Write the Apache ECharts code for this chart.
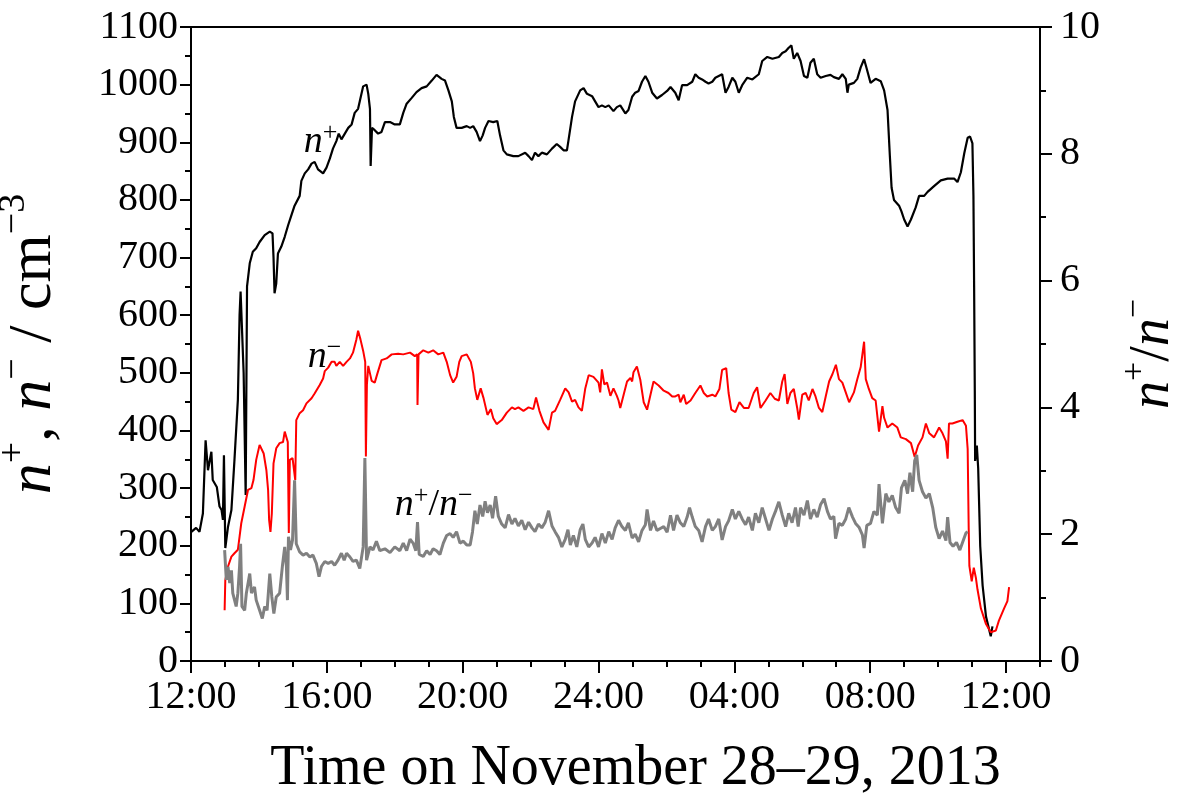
<!DOCTYPE html>
<html>
<head>
<meta charset="utf-8">
<script src="https://cdn.jsdelivr.net/npm/echarts@6/dist/echarts.min.js"></script>
<style>
  html, body { margin: 0; padding: 0; background: #fff; }
  #chart { width: 1185px; height: 803px; }
</style>
</head>
<body>
<div id="chart"></div>
<script>
// Time axis: hours elapsed since 12:00 on November 28, 2013
const xTickLabels = ['12:00', '16:00', '20:00', '24:00', '04:00', '08:00', '12:00'];

// Positive ion concentration n+ (cm^-3)
const nPlusHours = [0.01,0.15,0.25,0.35,0.43,0.50,0.60,0.64,0.76,0.84,0.90,0.94,0.97,1.01,1.09,1.19,1.28,1.38,1.43,1.46,1.51,1.55,1.61,1.65,1.73,1.82,1.92,2.02,2.17,2.32,2.40,2.43,2.46,2.51,2.56,2.66,2.76,2.86,2.96,3.00,3.05,3.20,3.25,3.35,3.45,3.55,3.64,3.74,3.89,3.99,4.09,4.18,4.28,4.35,4.43,4.53,4.63,4.73,4.82,4.92,4.97,5.07,5.17,5.22,5.27,5.29,5.33,5.41,5.51,5.61,5.71,5.86,6.00,6.15,6.25,6.35,6.50,6.64,6.79,6.94,7.09,7.23,7.38,7.48,7.58,7.68,7.74,7.82,7.97,8.12,8.22,8.31,8.41,8.51,8.59,8.66,8.76,8.90,9.02,9.10,9.20,9.30,9.49,9.64,9.84,9.94,10.04,10.13,10.23,10.33,10.48,10.63,10.77,10.87,10.97,11.07,11.12,11.22,11.31,11.46,11.56,11.66,11.81,11.90,12.00,12.10,12.20,12.30,12.44,12.54,12.64,12.79,12.88,12.99,13.08,13.18,13.28,13.38,13.47,13.58,13.72,13.87,14.02,14.12,14.26,14.36,14.46,14.61,14.76,14.85,14.95,15.05,15.15,15.24,15.35,15.44,15.64,15.74,15.83,15.94,16.03,16.13,16.23,16.38,16.53,16.72,16.82,16.97,17.12,17.31,17.41,17.51,17.60,17.68,17.75,17.85,17.95,18.05,18.15,18.24,18.34,18.44,18.54,18.69,18.83,18.93,19.08,19.18,19.28,19.33,19.37,19.52,19.62,19.72,19.82,19.90,20.01,20.16,20.31,20.41,20.51,20.58,20.63,20.70,20.85,20.92,21.00,21.10,21.20,21.34,21.44,21.59,21.69,21.88,22.08,22.28,22.47,22.57,22.67,22.77,22.87,22.94,23.01,23.04,23.06,23.08,23.09,23.14,23.18,23.24,23.31,23.41,23.55,23.60];
const nPlusValues = [224,231,224,256,383,331,363,314,302,268,262,245,357,196,233,262,349,453,600,641,641,500,288,650,690,710,716,727,739,745,742,700,638,655,707,719,736,756,774,774,790,807,833,846,853,863,866,853,846,856,872,889,902,915,905,915,925,931,951,958,971,997,1000,984,958,859,925,921,915,918,935,935,931,931,951,967,977,987,994,997,1007,1017,1010,1007,990,971,944,925,925,928,925,928,918,902,912,925,937,935,937,912,886,879,876,876,882,876,869,882,876,882,879,889,897,892,886,886,905,944,971,990,994,984,980,971,961,964,961,964,954,961,964,950,956,979,986,989,1005,1015,1005,986,976,982,989,996,986,973,999,999,1005,1018,1012,1009,1005,1002,1005,1012,1018,986,996,1012,1005,986,999,1012,1009,1018,1041,1048,1045,1048,1055,1058,1064,1068,1045,1055,1041,1015,1012,1038,1045,1018,1012,1015,1017,1013,1010,1018,1010,986,1000,1003,1010,1030,1044,1027,1003,1010,1006,990,956,875,821,800,790,780,766,754,766,787,807,807,814,824,834,837,837,831,848,881,908,910,898,807,652,469,347,374,334,199,131,77,43,60];

// Negative ion concentration n- (cm^-3)
const nMinusHours = [0.99,1.01,1.09,1.19,1.28,1.38,1.43,1.48,1.58,1.68,1.78,1.84,1.92,2.02,2.07,2.14,2.22,2.27,2.30,2.34,2.38,2.43,2.51,2.61,2.71,2.76,2.81,2.85,2.88,2.91,2.99,3.03,3.07,3.10,3.20,3.30,3.40,3.55,3.64,3.79,3.89,3.94,4.04,4.14,4.23,4.28,4.38,4.48,4.58,4.68,4.77,4.87,4.92,4.99,5.07,5.13,5.15,5.18,5.22,5.32,5.41,5.49,5.61,5.76,5.91,6.10,6.25,6.30,6.45,6.59,6.66,6.67,6.70,6.84,6.99,7.13,7.28,7.43,7.53,7.63,7.72,7.82,7.90,7.97,8.12,8.24,8.31,8.36,8.43,8.53,8.61,8.73,8.83,8.90,9.00,9.15,9.30,9.45,9.54,9.64,9.79,9.94,10.08,10.16,10.26,10.38,10.53,10.63,10.72,10.87,11.02,11.12,11.22,11.31,11.41,11.51,11.61,11.71,11.85,12.00,12.05,12.10,12.17,12.25,12.35,12.44,12.54,12.59,12.64,12.74,12.84,12.94,12.99,13.03,13.13,13.23,13.33,13.43,13.53,13.62,13.77,13.92,14.06,14.17,14.26,14.36,14.41,14.51,14.58,14.71,14.85,15.00,15.10,15.20,15.35,15.44,15.56,15.64,15.76,15.83,15.91,16.03,16.15,16.28,16.42,16.57,16.67,16.77,16.92,17.06,17.19,17.31,17.41,17.48,17.56,17.65,17.75,17.85,17.90,18.00,18.10,18.19,18.30,18.39,18.49,18.59,18.69,18.79,18.89,18.99,19.08,19.18,19.28,19.38,19.52,19.62,19.72,19.82,19.87,19.96,20.06,20.16,20.26,20.36,20.41,20.51,20.65,20.80,20.90,21.05,21.20,21.31,21.41,21.54,21.64,21.74,21.88,22.03,22.13,22.23,22.28,22.32,22.42,22.57,22.72,22.82,22.87,22.90,22.92,22.99,23.05,23.11,23.16,23.26,23.41,23.55,23.70,23.79,23.94,24.04,24.09];
const nMinusValues = [88,140,164,181,187,193,216,239,268,297,300,314,349,375,375,360,331,297,245,224,256,343,369,378,380,398,398,380,222,349,352,350,314,418,430,435,447,456,464,479,490,503,509,519,519,512,519,512,519,525,535,558,573,558,538,519,355,480,512,486,483,499,522,525,532,533,532,529,535,529,532,444,532,539,535,539,532,535,519,496,483,493,519,529,532,519,499,473,453,473,457,427,437,421,411,418,431,440,437,440,434,440,437,457,434,414,401,431,434,453,473,466,450,453,440,434,473,496,493,483,466,506,480,483,460,473,460,452,439,462,485,491,485,501,511,488,449,436,462,485,478,469,465,459,459,462,449,462,446,452,465,478,465,459,462,459,472,505,508,465,436,432,449,439,439,465,475,439,452,465,455,452,485,498,446,465,472,439,419,462,465,452,472,459,439,432,459,485,498,514,489,483,466,449,466,489,510,554,489,472,456,452,398,442,422,405,412,405,388,385,378,354,374,388,412,395,388,405,395,381,351,412,412,415,418,408,368,232,165,138,162,145,124,91,64,50,53,70,91,104,128];

// Ratio n+/n- (right axis)
const ratioHours = [0.99,1.04,1.09,1.14,1.19,1.23,1.33,1.38,1.43,1.46,1.50,1.58,1.63,1.73,1.78,1.87,1.92,2.02,2.10,2.17,2.24,2.32,2.38,2.44,2.51,2.61,2.69,2.76,2.81,2.84,2.87,2.93,2.99,3.05,3.10,3.20,3.30,3.40,3.50,3.59,3.69,3.77,3.84,3.94,4.04,4.14,4.23,4.33,4.43,4.51,4.58,4.68,4.77,4.87,4.97,5.07,5.12,5.17,5.27,5.36,5.46,5.56,5.71,5.86,6.00,6.15,6.25,6.35,6.45,6.54,6.62,6.67,6.72,6.84,6.94,7.04,7.13,7.23,7.33,7.43,7.53,7.63,7.72,7.82,7.92,8.02,8.12,8.22,8.29,8.36,8.43,8.51,8.59,8.66,8.73,8.81,8.88,8.97,9.05,9.15,9.25,9.35,9.45,9.54,9.64,9.74,9.84,9.94,10.04,10.13,10.23,10.33,10.43,10.53,10.63,10.72,10.82,10.92,11.02,11.10,11.17,11.26,11.36,11.46,11.54,11.61,11.71,11.81,11.90,12.00,12.10,12.20,12.30,12.40,12.49,12.59,12.69,12.79,12.88,12.99,13.08,13.18,13.28,13.38,13.43,13.53,13.62,13.72,13.82,13.92,14.02,14.12,14.21,14.31,14.41,14.51,14.61,14.68,14.76,14.85,14.95,15.05,15.15,15.24,15.35,15.44,15.54,15.64,15.74,15.83,15.94,16.03,16.13,16.23,16.33,16.42,16.53,16.62,16.72,16.82,16.92,17.02,17.12,17.21,17.31,17.41,17.51,17.60,17.70,17.80,17.88,17.95,18.05,18.15,18.24,18.34,18.44,18.54,18.64,18.74,18.83,18.93,18.98,19.08,19.18,19.28,19.37,19.48,19.57,19.67,19.77,19.82,19.90,20.01,20.11,20.21,20.26,20.36,20.46,20.55,20.65,20.75,20.85,20.92,21.02,21.10,21.17,21.25,21.31,21.37,21.44,21.54,21.64,21.74,21.84,21.93,22.03,22.13,22.23,22.28,22.35,22.44,22.54,22.64,22.74,22.82,22.87];
const ratioValues = [1.75,1.28,1.49,1.23,1.43,1.07,0.86,1.07,1.49,1.85,0.86,0.80,1.07,1.38,1.07,1.17,0.96,0.80,0.67,0.86,0.80,1.38,1.01,0.75,1.01,1.07,1.49,1.80,1.49,0.96,1.96,1.75,1.91,2.85,1.85,1.72,1.67,1.70,1.64,1.67,1.54,1.33,1.49,1.57,1.54,1.57,1.51,1.59,1.70,1.59,1.70,1.64,1.57,1.59,1.46,1.80,3.20,1.59,1.80,1.75,1.89,1.74,1.77,1.71,1.80,1.74,1.86,1.74,1.92,1.86,1.74,2.19,1.68,1.65,1.74,1.68,1.77,1.74,1.68,1.86,1.98,2.01,1.95,2.04,1.86,1.89,1.83,1.83,2.04,2.37,2.16,2.46,2.28,2.52,2.34,2.46,2.25,2.60,2.28,2.16,2.10,2.31,2.16,2.25,2.13,2.22,2.07,2.19,2.10,2.04,2.16,2.10,2.19,2.37,2.13,2.04,1.95,1.80,1.92,2.07,1.83,1.98,1.80,2.07,2.16,1.92,1.80,1.86,1.95,1.80,2.01,1.86,2.04,1.92,2.10,2.22,2.12,2.06,2.18,1.94,2.00,1.88,2.06,2.15,2.39,2.06,2.21,2.06,2.09,2.12,2.03,2.30,2.06,2.30,2.18,2.12,2.27,2.42,2.27,2.12,2.06,1.88,2.12,2.24,2.06,2.12,2.24,1.91,2.12,2.21,2.39,2.24,2.36,2.24,2.15,2.27,2.06,2.33,2.18,2.42,2.24,2.06,2.24,2.36,2.51,2.30,2.12,2.33,2.18,2.42,2.12,2.42,2.30,2.53,2.24,2.39,2.27,2.47,2.56,2.36,2.24,2.28,1.93,2.17,2.14,2.24,2.42,2.27,2.17,2.11,1.99,1.78,2.14,2.17,2.36,2.30,2.79,2.17,2.64,2.51,2.61,2.42,2.33,2.73,2.85,2.64,2.97,2.67,3.16,3.25,2.85,2.67,2.57,2.64,2.42,2.11,1.93,2.05,1.90,2.27,1.87,1.81,1.87,1.75,1.90,2.02,2.04];

const zip = (xs, ys) => xs.map((x, i) => [x, ys[i]]);

const SERIF = 'Liberation Serif';
const black = '#000000';

const chart = echarts.init(document.getElementById('chart'), null, { renderer: 'canvas' });

const supStyle = (size) => ({ fontFamily: SERIF, fontSize: size, color: black, verticalAlign: 'top', lineHeight: size });

chart.setOption({
  animation: false,
  backgroundColor: '#ffffff',
  grid: {
    left: 191, right: 145, top: 27, bottom: 142,
    containLabel: false, outerBoundsMode: 'none',
    show: true, borderColor: black, borderWidth: 2, backgroundColor: 'transparent'
  },
  xAxis: [
    {
      type: 'value', min: 0, max: 25, interval: 4, position: 'bottom',
      axisLine: { show: true, onZero: false, lineStyle: { color: black, width: 2 } },
      axisTick: { show: true, inside: false, length: 12, lineStyle: { color: black, width: 2 }, customValues: [0, 4, 8, 12, 16, 20, 24] },
      axisLabel: {
        customValues: [0, 4, 8, 12, 16, 20, 24],
        formatter: (v) => xTickLabels[Math.round(v / 4)] || '',
        fontFamily: SERIF, fontSize: 40, color: black, margin: 16
      },
      splitLine: { show: false },
      name: 'Time on November 28\u201329, 2013',
      nameLocation: 'middle', nameGap: 80,
      nameTextStyle: { fontFamily: SERIF, fontSize: 56, color: black, padding: [0, 0, 0, 40] }
    },
    {
      // hourly minor ticks
      type: 'value', min: 0, max: 25, interval: 1, position: 'bottom',
      axisLine: { show: false, onZero: false },
      axisTick: { show: true, inside: false, length: 6, lineStyle: { color: black, width: 2 } },
      axisLabel: { show: false },
      splitLine: { show: false }
    }
  ],
  yAxis: [
    {
      type: 'value', min: 0, max: 1100, interval: 100, position: 'left',
      axisLine: { show: true, onZero: false, lineStyle: { color: black, width: 2 } },
      axisTick: { show: true, inside: false, length: 11, lineStyle: { color: black, width: 2 } },
      minorTick: { show: true, splitNumber: 2, length: 6, lineStyle: { color: black, width: 2 } },
      axisLabel: { fontFamily: SERIF, fontSize: 40, color: black, margin: 13, formatter: (v) => String(v) },
      splitLine: { show: false },
      name: '{i|n}{s|+}{r|, }{i|n}{s|\u2212}{r| / cm}{s|\u22123}',
      nameLocation: 'middle', nameRotate: 90, nameGap: 118,
      nameTextStyle: {
        rich: {
          i: { fontFamily: SERIF, fontStyle: 'italic', fontSize: 62, color: black, lineHeight: 78 },
          r: { fontFamily: SERIF, fontSize: 62, color: black, lineHeight: 78 },
          s: supStyle(38)
        }
      }
    },
    {
      type: 'value', min: 0, max: 10, interval: 2, position: 'right',
      axisLine: { show: true, onZero: false, lineStyle: { color: black, width: 2 } },
      axisTick: { show: true, inside: false, length: 12, lineStyle: { color: black, width: 2 } },
      minorTick: { show: true, splitNumber: 2, length: 6, lineStyle: { color: black, width: 2 } },
      axisLabel: { fontFamily: SERIF, fontSize: 40, color: black, margin: 20, formatter: (v) => String(v) },
      splitLine: { show: false },
      name: '{i|n}{s|+}{r|/}{i|n}{s|\u2212}',
      nameLocation: 'middle', nameRotate: 90, nameGap: 78,
      nameTextStyle: {
        padding: [0, 20, 0, 0],
        rich: {
          i: { fontFamily: SERIF, fontStyle: 'italic', fontSize: 56, color: black, lineHeight: 70 },
          r: { fontFamily: SERIF, fontSize: 56, color: black, lineHeight: 70 },
          s: supStyle(34)
        }
      }
    }
  ],
  series: [
    {
      name: 'n+', type: 'line', xAxisIndex: 0, yAxisIndex: 0,
      data: zip(nPlusHours, nPlusValues), showSymbol: false, symbol: 'none',
      lineStyle: { color: black, width: 2.2 }, z: 2
    },
    {
      name: 'n-', type: 'line', xAxisIndex: 0, yAxisIndex: 0,
      data: zip(nMinusHours, nMinusValues), showSymbol: false, symbol: 'none',
      lineStyle: { color: '#ff0000', width: 2 }, z: 3
    },
    {
      name: 'n+/n-', type: 'line', xAxisIndex: 0, yAxisIndex: 1,
      data: zip(ratioHours, ratioValues), showSymbol: false, symbol: 'none',
      lineStyle: { color: '#808080', width: 3 }, z: 4
    }
  ]
});

// In-plot curve labels, anchored in data coordinates (hours, cm^-3)
const curveLabels = [
  { at: [3.32, 900], text: '{i|n}{s|+}' },
  { at: [3.44, 527], text: '{i|n}{s|\u2212}' },
  { at: [6.0, 270], text: '{i|n}{s|+}{r|/}{i|n}{s|\u2212}' }
];
const labelRich = {
  i: { fontFamily: SERIF, fontStyle: 'italic', fontSize: 38, fill: black, lineHeight: 44 },
  r: { fontFamily: SERIF, fontSize: 38, fill: black, lineHeight: 44 },
  s: { fontFamily: SERIF, fontSize: 26, fill: black, verticalAlign: 'top', lineHeight: 22 }
};
chart.setOption({
  graphic: curveLabels.map((lab) => {
    const p = chart.convertToPixel({ xAxisIndex: 0, yAxisIndex: 0 }, lab.at);
    return {
      type: 'text', x: p[0], y: p[1], z: 10,
      style: { text: lab.text, rich: labelRich, align: 'left', verticalAlign: 'middle' }
    };
  })
});
</script>
</body>
</html>
